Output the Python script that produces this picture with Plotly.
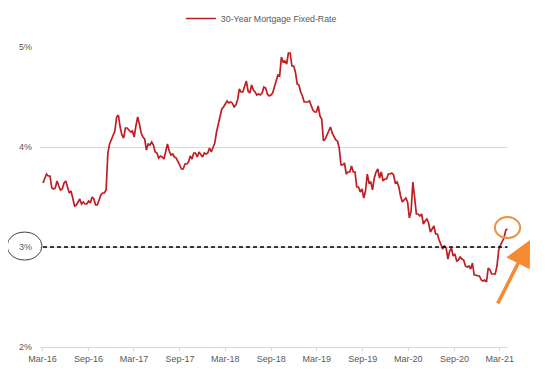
import pandas as pd
import plotly.graph_objects as go

# Weekly 30-year fixed mortgage rate (%), first week of Mar-2016 to first week of Apr-2021
rates_2016 = [3.64, 3.68, 3.73, 3.71, 3.71, 3.59, 3.58, 3.59, 3.66, 3.61, 3.57, 3.58, 3.64,
              3.66, 3.60, 3.54, 3.56, 3.48, 3.41, 3.42, 3.45, 3.48, 3.43, 3.45, 3.43, 3.43,
              3.46, 3.44, 3.50, 3.48, 3.42, 3.42, 3.47, 3.52, 3.54, 3.54, 3.57, 3.94, 4.03,
              4.08, 4.13, 4.16, 4.30, 4.32]
rates_2017 = [4.20, 4.12, 4.09, 4.19, 4.19, 4.17, 4.15, 4.16, 4.10, 4.21, 4.30, 4.23, 4.14,
              4.10, 4.08, 3.97, 4.03, 4.02, 4.05, 4.02, 3.95, 3.94, 3.89, 3.91, 3.90, 3.88,
              3.96, 4.03, 3.96, 3.92, 3.93, 3.90, 3.89, 3.86, 3.82, 3.78, 3.78, 3.83, 3.83,
              3.85, 3.91, 3.88, 3.94, 3.94, 3.90, 3.95, 3.92, 3.90, 3.94, 3.93, 3.94, 3.99]
rates_2018 = [3.95, 3.99, 4.04, 4.15, 4.22, 4.32, 4.38, 4.40, 4.43, 4.46, 4.44, 4.45, 4.44,
              4.40, 4.42, 4.47, 4.58, 4.55, 4.55, 4.61, 4.66, 4.56, 4.54, 4.62, 4.57, 4.55,
              4.52, 4.53, 4.52, 4.54, 4.60, 4.59, 4.53, 4.51, 4.52, 4.54, 4.60, 4.65, 4.72,
              4.71, 4.90, 4.85, 4.86, 4.83, 4.94, 4.94, 4.81, 4.81, 4.75, 4.63, 4.62, 4.55]
rates_2019 = [4.51, 4.45, 4.45, 4.45, 4.46, 4.41, 4.37, 4.35, 4.35, 4.41, 4.31, 4.28, 4.06,
              4.08, 4.12, 4.17, 4.20, 4.14, 4.10, 4.07, 4.06, 3.99, 3.82, 3.82, 3.84, 3.73,
              3.75, 3.75, 3.81, 3.75, 3.75, 3.60, 3.60, 3.55, 3.58, 3.49, 3.56, 3.73, 3.64,
              3.65, 3.57, 3.69, 3.75, 3.78, 3.69, 3.75, 3.66, 3.68, 3.68, 3.73, 3.73, 3.74]
rates_2020 = [3.72, 3.64, 3.65, 3.60, 3.51, 3.45, 3.47, 3.49, 3.45, 3.29, 3.36, 3.65, 3.50,
              3.33, 3.33, 3.31, 3.33, 3.23, 3.26, 3.28, 3.24, 3.15, 3.18, 3.21, 3.13, 3.13,
              3.07, 3.03, 2.98, 3.01, 2.99, 2.88, 2.96, 2.99, 2.91, 2.93, 2.86, 2.87, 2.90,
              2.88, 2.87, 2.81, 2.80, 2.81, 2.78, 2.84, 2.72, 2.72, 2.71, 2.71, 2.67, 2.66, 2.67]
rates_2021 = [2.65, 2.79, 2.77, 2.73, 2.73, 2.73, 2.81, 2.97, 3.02, 3.05, 3.09, 3.17, 3.18]

rates = rates_2016 + rates_2017 + rates_2018 + rates_2019 + rates_2020 + rates_2021
dates = pd.date_range(start="2016-03-03", periods=len(rates), freq="W-THU")

series_name = "30-Year Mortgage Fixed-Rate"
y_ticks = [2, 3, 4, 5]
threshold = 3

fig = go.Figure()
fig.add_trace(go.Scatter(
    x=dates, y=rates, mode="lines", name=series_name,
    line=dict(color="#BE1E24", width=1.7), showlegend=True,
))

font_family = "Liberation Sans, Arial, sans-serif"
grey = "#595959"

# page body has an 8px margin, so the figure is sized/offset to compensate
fig.update_layout(
    width=542, height=368,
    margin=dict(l=32, r=42, t=39, b=29, autoexpand=False),
    paper_bgcolor="white", plot_bgcolor="white",
    font=dict(family=font_family, size=9, color=grey),
    showlegend=True,
    legend=dict(orientation="h", x=0.301, xanchor="left", y=1.095, yanchor="middle",
                font=dict(size=8.8, color=grey), bgcolor="rgba(0,0,0,0)",
                itemwidth=30),
    xaxis=dict(
        type="date",
        range=["2016-02-20", "2021-04-03"],
        tick0="2016-03-01", dtick="M6", tickformat="%b-%y",
        showgrid=False, zeroline=False,
        showline=True, linecolor="#D9D9D9", linewidth=1,
        ticks="outside", ticklen=3, tickcolor="#D9D9D9",
        tickfont=dict(size=9, color=grey),
    ),
    yaxis=dict(
        range=[2, 5], tickvals=y_ticks, ticktext=[f"{v}%" for v in y_ticks],
        showgrid=True, gridcolor="#D9D9D9", gridwidth=1,
        zeroline=False, showline=False, ticks="",
        ticklabelstandoff=7,
        tickfont=dict(size=9, color=grey),
    ),
)

# dashed 3% reference line
fig.add_shape(type="line", xref="x", yref="y",
              x0=dates[0], x1=dates[-1], y0=threshold, y1=threshold,
              line=dict(color="black", width=1.5, dash="4px,3px"))

# ellipse around the 3% tick label
fig.add_shape(type="circle", xref="paper", yref="paper",
              x0=-0.0705, x1=0.0043, y0=0.29, y1=0.383,
              line=dict(color="#404040", width=1))

# orange circle on latest value
fig.add_shape(type="circle", xref="paper", yref="paper",
              x0=0.972, x1=1.026, y0=0.363, y1=0.433,
              line=dict(color="#F0913F", width=2))

# orange arrow
fig.add_annotation(xref="paper", yref="paper", x=1.047, y=0.357,
                   ax=-33, ay=65, axref="pixel", ayref="pixel",
                   showarrow=True, arrowhead=2, arrowsize=1.5, arrowwidth=3.5,
                   arrowcolor="#F58A32", text="")

fig.write_html("out.html")
